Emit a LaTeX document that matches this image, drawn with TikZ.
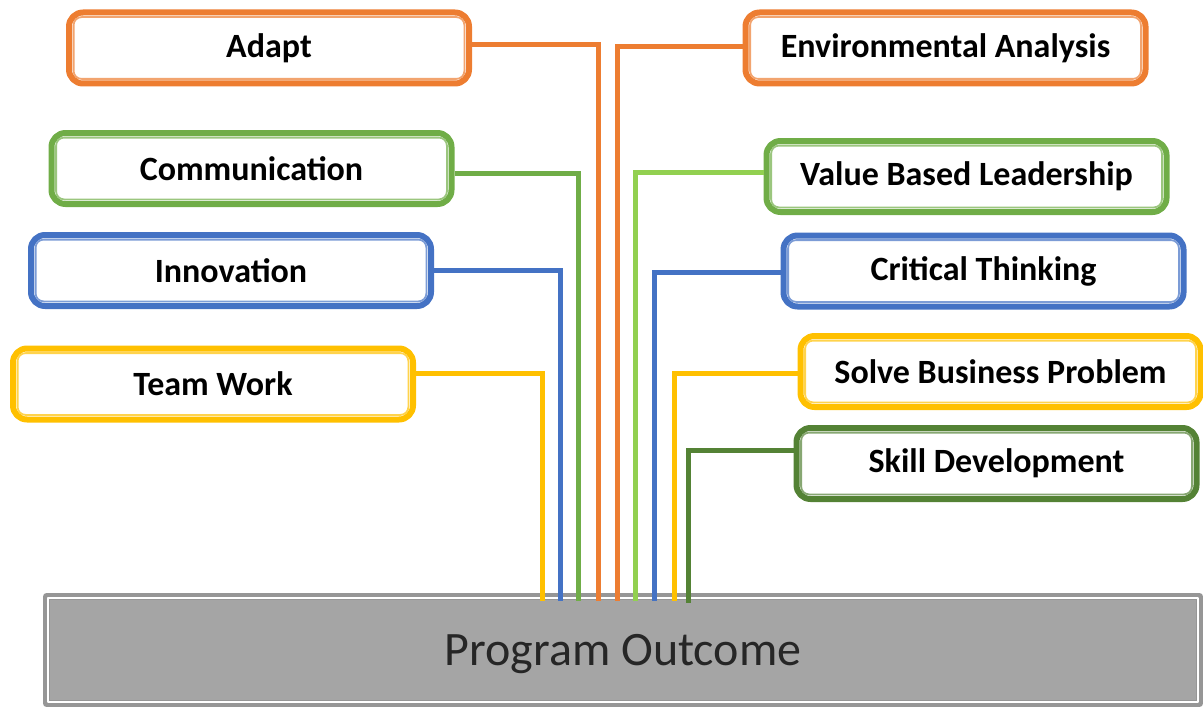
\documentclass[tikz,border=0pt]{standalone}
\usepackage{fontspec}
\setmainfont{Carlito}
\usetikzlibrary{calc}

\definecolor{outOrange}{HTML}{ED7D31}
\definecolor{outGreen}{HTML}{70AD47}
\definecolor{outLime}{HTML}{92D050}
\definecolor{outBlue}{HTML}{4472C4}
\definecolor{outYellow}{HTML}{FFC000}
\definecolor{outDark}{HTML}{548235}
\definecolor{barGray}{HTML}{A5A5A5}
\definecolor{barEdge}{HTML}{969696}

\begin{document}
\begin{tikzpicture}[line cap=round,line join=round,x=0.5pt,y=-0.5pt,
  skillbox/.style={draw=#1, line width=3pt, rounded corners=7pt, fill=white,
    minimum width=200pt, minimum height=35.5pt, inner sep=0pt,
    font=\bfseries\fontsize{17}{20}\selectfont},
  innerframe/.style={draw=#1!70!white, line width=0.9pt, rounded corners=4pt},
  link/.style={draw=#1, line width=2.5pt, line cap=butt, line join=miter}]
\useasboundingbox (0,0) rectangle (1203,706);

% outcome bar
\node[fill=barGray, draw=barEdge, line width=3.5pt, minimum width=576.5pt,
  minimum height=53.5pt, inner sep=0pt, text=black!85, text depth=0pt,
  font=\fontsize{24}{28}\selectfont] (outcome) at (623,650) {Program Outcome};
\draw[white, line width=1pt] ([shift={(2.6pt,2.6pt)}]outcome.south west) rectangle ([shift={(-2.6pt,-2.6pt)}]outcome.north east);

% left column
\node[skillbox=outOrange] (adapt) at (269,48) {Adapt};
\node[skillbox=outGreen] (commun) at (251.5,168.5) {Communication};
\node[skillbox=outBlue] (innov) at (231,270.5) {Innovation};
\node[skillbox=outYellow] (teamwork) at (213,384) {Team Work};

% right column
\node[skillbox=outOrange] (environ) at (945.5,48) {Environmental Analysis};
\node[skillbox=outGreen] (valuelead) at (966.5,176.5) {Value Based Leadership};
\node[skillbox=outBlue] (critical) at (983.5,271) {Critical Thinking};
\node[skillbox=outYellow] (solve) at (1000.5,371.5) {Solve Business Problem};
\node[skillbox=outDark] (skilldev) at (996.5,463.5) {Skill Development};

% inner frames
\foreach \n/\c in {adapt/outOrange, commun/outGreen, innov/outBlue, teamwork/outYellow,
  environ/outOrange, valuelead/outGreen, critical/outBlue, solve/outYellow, skilldev/outDark}
  \draw[innerframe=\c] ([shift={(3.8pt,3.8pt)}]\n.south west) rectangle ([shift={(-3.8pt,-3.8pt)}]\n.north east);

% drops on the bar
\coordinate (dTeam) at (542,601);
\coordinate (dInnov) at (560,601);
\coordinate (dComm) at (578,601);
\coordinate (dAdapt) at (598,601);
\coordinate (dEnv) at (617,601);
\coordinate (dValue) at (635,601);
\coordinate (dCrit) at (654,601);
\coordinate (dSolve) at (674,601);
\coordinate (dSkill) at (688,603);

% connectors
\foreach \n/\s/\d/\c in {adapt/1.5/dAdapt/outOrange, commun/-2.25/dComm/outGreen,
  innov/0/dInnov/outBlue, teamwork/5.5/dTeam/outYellow}
  \draw[link=\c] ([yshift=\s pt]\n.east) -| (\d);
\foreach \n/\s/\d/\c in {environ/0.5/dEnv/outOrange, valuelead/2.25/dValue/outLime,
  critical/-0.5/dCrit/outBlue, solve/-0.75/dSolve/outYellow, skilldev/6.75/dSkill/outDark}
  \draw[link=\c] ([yshift=\s pt]\n.west) -| (\d);

\end{tikzpicture}
\end{document}
